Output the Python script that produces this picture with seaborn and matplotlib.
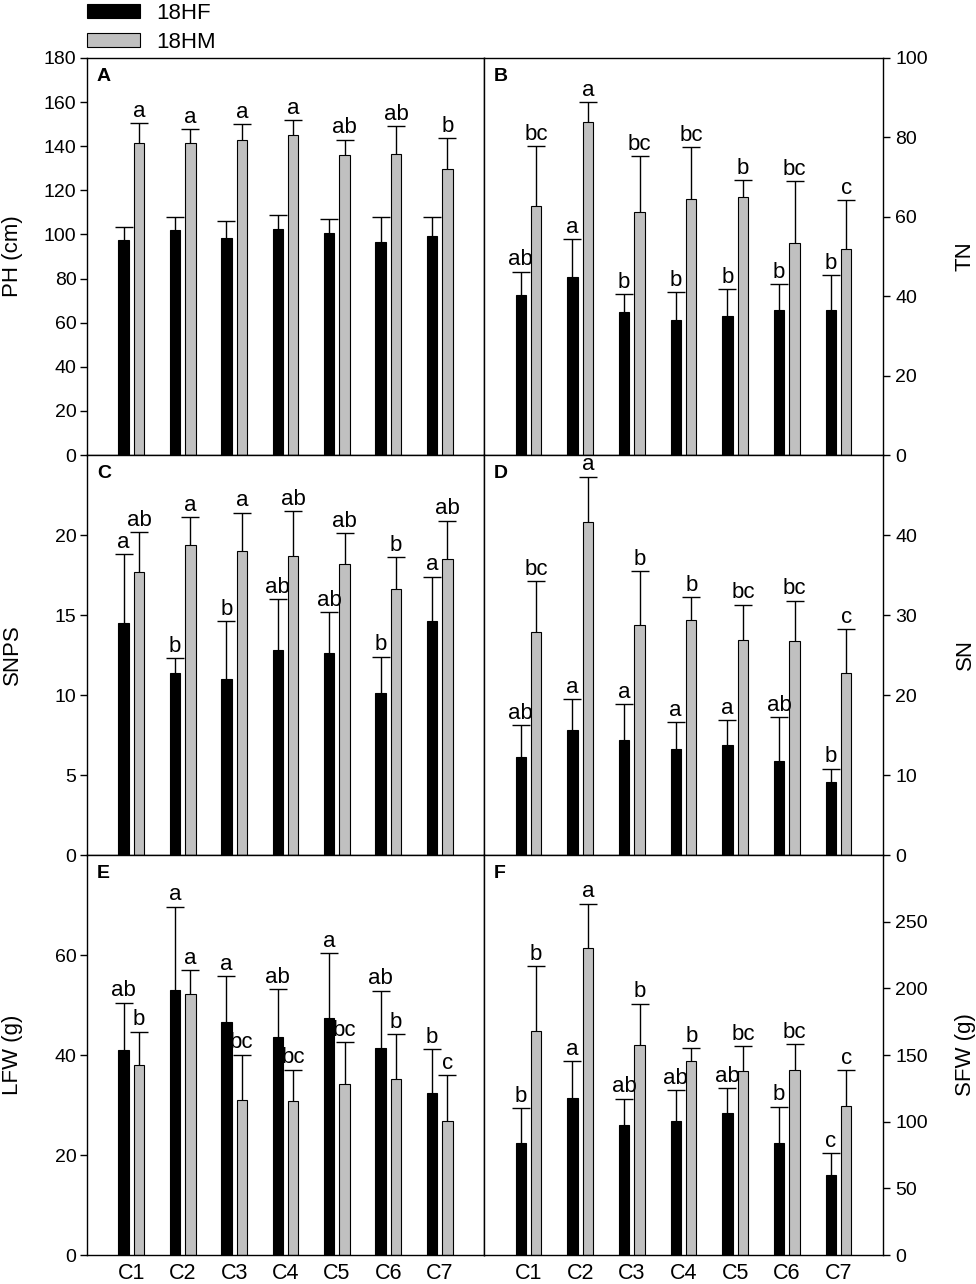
import numpy as np
import pandas as pd
import matplotlib
matplotlib.use("Agg")
import matplotlib.pyplot as plt
import seaborn as sns


sns.set_theme(style="ticks", rc={
    'axes.edgecolor': 'black',
    'axes.linewidth': 1.0,
    'text.color': 'black',
    'axes.labelcolor': 'black',
    'xtick.color': 'black',
    'ytick.color': 'black',
})
plt.rcParams['font.family'] = ['Liberation Sans', 'DejaVu Sans']

cultivars = ['C1', 'C2', 'C3', 'C4', 'C5', 'C6', 'C7']
groups = ['18HF', '18HM']
group_colors = ['black', '#c0c0c0']

# A - plant height
ph_hf = [97.3, 101.8, 98.6, 102.4, 100.6, 96.8, 99.1]
ph_hf_err = [6.3, 5.9, 7.3, 6.2, 6.5, 11.2, 8.9]
ph_hm = [141.4, 141.4, 142.8, 144.9, 136.1, 136.6, 129.6]
ph_hm_err = [9.3, 6.2, 7.1, 7.0, 6.9, 12.7, 14.1]
ph_hf_let = ['', '', '', '', '', '', '']
ph_hm_let = ['a', 'a', 'a', 'a', 'ab', 'ab', 'b']

# B - tiller number
tn_hf = [40.2, 44.9, 35.9, 33.9, 35.1, 36.6, 36.6]
tn_hf_err = [6.0, 9.5, 4.7, 7.1, 6.7, 6.4, 8.8]
tn_hm = [62.8, 84.0, 61.2, 64.6, 65.1, 53.4, 52.0]
tn_hm_err = [15.1, 5.0, 14.0, 12.9, 4.1, 15.5, 12.2]
tn_hf_let = ['ab', 'a', 'b', 'b', 'b', 'b', 'b']
tn_hm_let = ['bc', 'a', 'bc', 'bc', 'b', 'bc', 'c']

# C - SNPS
snps_hf = [14.5, 11.4, 11.0, 12.8, 12.6, 10.1, 14.6]
snps_hf_err = [4.3, 0.9, 3.6, 3.2, 2.6, 2.3, 2.8]
snps_hm = [17.7, 19.4, 19.0, 18.7, 18.2, 16.6, 18.5]
snps_hm_err = [2.5, 1.7, 2.4, 2.8, 1.9, 2.0, 2.4]
snps_hf_let = ['a', 'b', 'b', 'ab', 'ab', 'b', 'a']
snps_hm_let = ['ab', 'a', 'a', 'ab', 'ab', 'b', 'ab']

# D - SN
sn_hf = [12.2, 15.6, 14.4, 13.2, 13.8, 11.8, 9.1]
sn_hf_err = [4.0, 3.9, 4.5, 3.4, 3.1, 5.4, 1.7]
sn_hm = [27.9, 41.6, 28.7, 29.4, 26.9, 26.8, 22.7]
sn_hm_err = [6.3, 5.7, 6.8, 2.8, 4.4, 5.0, 5.5]
sn_hf_let = ['ab', 'a', 'a', 'a', 'a', 'ab', 'b']
sn_hm_let = ['bc', 'a', 'b', 'b', 'bc', 'bc', 'c']

# E - leaf fresh weight
lfw_hf = [41.1, 53.1, 46.7, 43.6, 47.5, 41.4, 32.5]
lfw_hf_err = [9.4, 16.6, 9.1, 9.6, 12.9, 11.5, 8.7]
lfw_hm = [38.1, 52.2, 31.0, 30.9, 34.2, 35.3, 26.9]
lfw_hm_err = [6.6, 4.8, 9.1, 6.2, 8.4, 8.9, 9.1]
lfw_hf_let = ['ab', 'a', 'a', 'ab', 'a', 'ab', 'b']
lfw_hm_let = ['b', 'a', 'bc', 'bc', 'bc', 'b', 'c']

# F - stem fresh weight
sfw_hf = [84.3, 117.6, 97.2, 100.7, 106.2, 83.8, 59.9]
sfw_hf_err = [26.0, 27.9, 20.1, 22.9, 18.9, 27.5, 16.4]
sfw_hm = [167.9, 229.9, 157.4, 145.3, 137.7, 138.7, 112.0]
sfw_hm_err = [48.9, 33.7, 31.2, 9.8, 18.9, 19.4, 26.7]
sfw_hf_let = ['b', 'a', 'ab', 'ab', 'ab', 'b', 'c']
sfw_hm_let = ['b', 'a', 'b', 'b', 'bc', 'bc', 'c']

panels = [
    dict(tag='A', label='PH (cm)', hf=ph_hf, hf_err=ph_hf_err, hm=ph_hm, hm_err=ph_hm_err,
         hf_let=ph_hf_let, hm_let=ph_hm_let, ymax=180, yticks=np.arange(0, 181, 20)),
    dict(tag='B', label='TN', hf=tn_hf, hf_err=tn_hf_err, hm=tn_hm, hm_err=tn_hm_err,
         hf_let=tn_hf_let, hm_let=tn_hm_let, ymax=100, yticks=np.arange(0, 101, 20)),
    dict(tag='C', label='SNPS', hf=snps_hf, hf_err=snps_hf_err, hm=snps_hm, hm_err=snps_hm_err,
         hf_let=snps_hf_let, hm_let=snps_hm_let, ymax=25, yticks=np.arange(0, 21, 5)),
    dict(tag='D', label='SN', hf=sn_hf, hf_err=sn_hf_err, hm=sn_hm, hm_err=sn_hm_err,
         hf_let=sn_hf_let, hm_let=sn_hm_let, ymax=50, yticks=np.arange(0, 41, 10)),
    dict(tag='E', label='LFW (g)', hf=lfw_hf, hf_err=lfw_hf_err, hm=lfw_hm, hm_err=lfw_hm_err,
         hf_let=lfw_hf_let, hm_let=lfw_hm_let, ymax=80, yticks=np.arange(0, 61, 20)),
    dict(tag='F', label='SFW (g)', hf=sfw_hf, hf_err=sfw_hf_err, hm=sfw_hm, hm_err=sfw_hm_err,
         hf_let=sfw_hf_let, hm_let=sfw_hm_let, ymax=300, yticks=np.arange(0, 251, 50)),
]

W, H = 976, 1284
col_left = [87, 484]
col_width = [397, 399]
row_top = [58, 455, 855]
row_bottom = [455, 855, 1255]


def draw_panel(ax, spec, col, row):
    df = pd.DataFrame({
        'Cultivar': cultivars * 2,
        'Group': [groups[0]] * len(cultivars) + [groups[1]] * len(cultivars),
        'Value': list(spec['hf']) + list(spec['hm']),
    })
    sns.barplot(data=df, x='Cultivar', y='Value', hue='Group', order=cultivars,
                hue_order=groups, palette=group_colors, saturation=1, width=0.6,
                gap=0.33, errorbar=None, edgecolor='black', linewidth=0.8,
                ax=ax, legend=(spec['tag'] == 'A'))

    # upper-only error bars + significance letters
    for bars, errs, lets in zip(ax.containers,
                                [spec['hf_err'], spec['hm_err']],
                                [spec['hf_let'], spec['hm_let']]):
        bars = sorted(bars, key=lambda p: p.get_x())
        xs = np.array([p.get_x() + p.get_width() / 2 for p in bars])
        ys = np.array([p.get_height() for p in bars])
        tops = ys + np.array(errs)
        ax.vlines(xs, ys, tops, color='black', lw=1)
        ax.plot(xs, tops, ls='none', marker='_', ms=13, mew=1, color='black')
        for x, t, s in zip(xs, tops, lets):
            if s:
                ax.annotate(s, (x, t), xytext=(0, 0.8), textcoords='offset points',
                            ha='center', va='bottom', fontsize=16)

    ax.set_xlim(-0.86, len(cultivars) - 1 + 0.86)
    ax.set_ylim(0, spec['ymax'])
    ax.set_yticks(spec['yticks'])
    ax.set_xlabel('')
    ax.set_ylabel(spec['label'], fontsize=16)
    ax.tick_params(axis='y', direction='out', length=5, width=1, pad=2.5, labelsize=14)
    ax.tick_params(axis='x', length=0, pad=6, labelsize=15.5,
                   labelbottom=(row == 2))
    if col == 1:
        ax.yaxis.tick_right()
        ax.yaxis.set_label_position('right')
        ax.tick_params(axis='y', pad=4)
        ax.yaxis.set_label_coords(1.18, 0.5)
    else:
        ax.yaxis.set_label_coords(-0.161, 0.5)
    for sp in ax.spines.values():
        sp.set_visible(True)
        sp.set_color('black')
        sp.set_linewidth(1)
    ax.text(0.025, 0.975, spec['tag'], transform=ax.transAxes, fontsize=14,
            fontweight='bold', ha='left', va='top')


fig = plt.figure(figsize=(W / 100, H / 100), dpi=100)

legend_handles = None
for i, spec in enumerate(panels):
    row, col = divmod(i, 2)
    rect = [col_left[col] / W, 1 - row_bottom[row] / H,
            col_width[col] / W, (row_bottom[row] - row_top[row]) / H]
    ax = fig.add_axes(rect)
    draw_panel(ax, spec, col, row)
    if spec['tag'] == 'A':
        legend_handles = ax.get_legend_handles_labels()
        ax.get_legend().remove()

fig.legend(legend_handles[0], legend_handles[1], loc='upper left',
           bbox_to_anchor=(87 / W, 1 - 3 / H), frameon=False, fontsize=16,
           handlelength=2.4, handleheight=0.6, handletextpad=0.7,
           labelspacing=0.35, borderpad=0, borderaxespad=0)

fig.savefig('out.png', dpi=100)
